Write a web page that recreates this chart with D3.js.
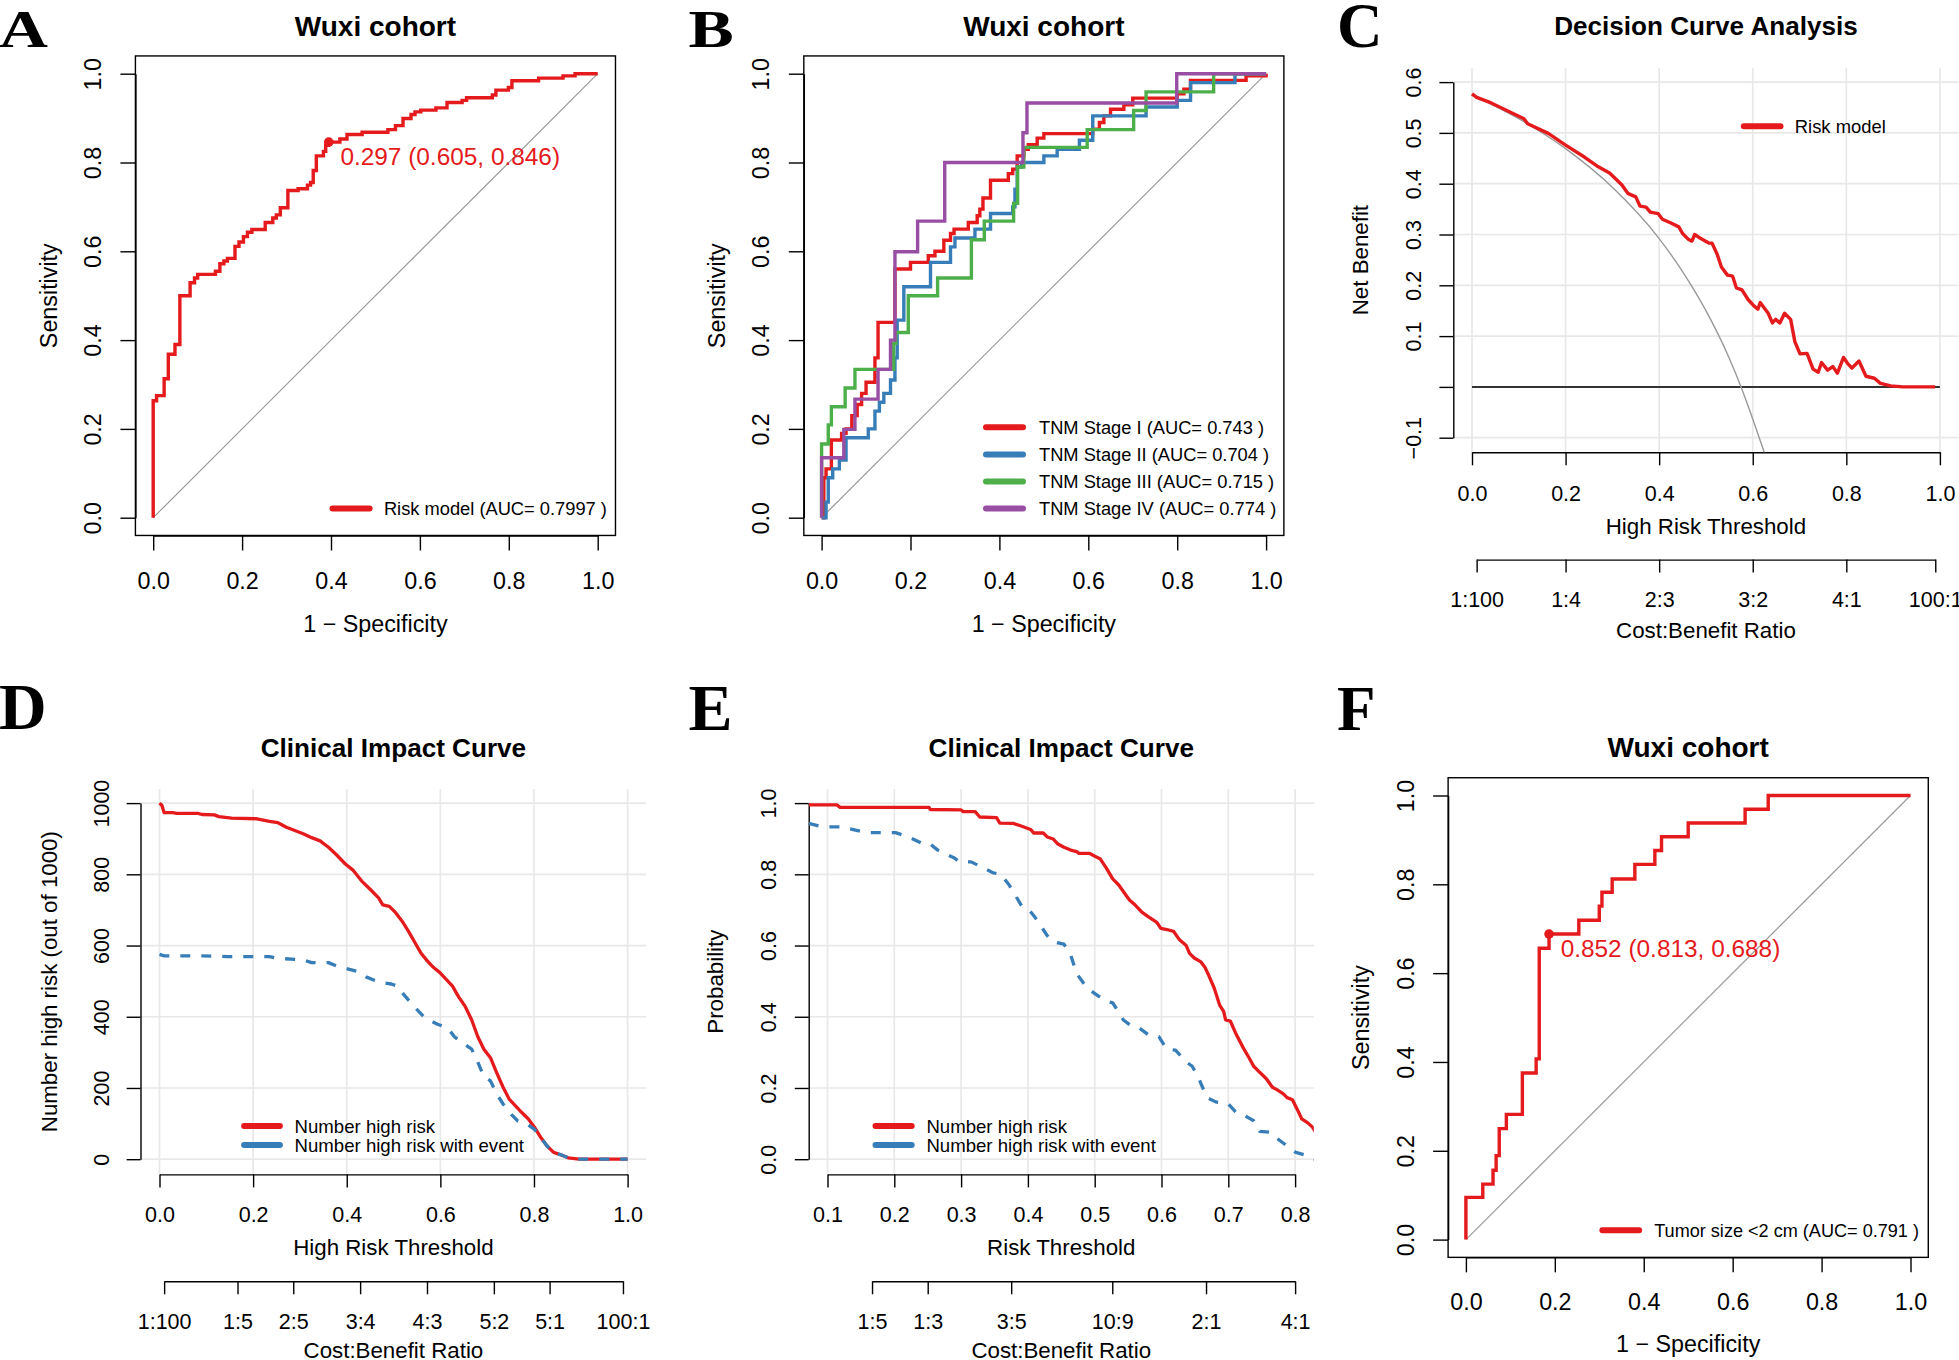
<!DOCTYPE html>
<html><head><meta charset="utf-8">
<script src="https://cdn.jsdelivr.net/npm/d3@7"></script>
<style>body{margin:0;background:#fff;overflow:hidden}</style>
</head><body><svg id="c" width="1959" height="1360"></svg>
<script>
// ================= DATA =================
const rocTicks=[0,0.2,0.4,0.6,0.8,1.0];

// Panel A: ROC risk model (1-specificity, sensitivity) at each vertical step
const rocA_fpr=[0,0,0.0076,0.0246,0.034,0.049,0.060,0.083,0.093,0.100,0.140,0.150,0.159,0.167,0.184,0.193,0.203,0.212,0.222,0.252,0.269,0.277,0.286,0.303,0.326,0.347,0.354,0.360,0.367,0.383,0.388,0.394,0.420,0.436,0.470,0.528,0.545,0.562,0.580,0.589,0.602,0.636,0.661,0.695,0.705,0.763,0.771,0.799,0.807,0.867,0.922,0.949,1.0];
const rocA_tpr=[0,0.2635,0.275,0.313,0.368,0.39,0.5,0.529,0.540,0.548,0.555,0.572,0.578,0.584,0.611,0.621,0.633,0.643,0.649,0.665,0.675,0.682,0.698,0.737,0.741,0.749,0.755,0.782,0.815,0.825,0.839,0.846,0.853,0.863,0.868,0.874,0.883,0.899,0.908,0.914,0.918,0.923,0.935,0.940,0.946,0.952,0.963,0.969,0.984,0.990,0.995,1.0,1.0];
const rocA_label="Risk model (AUC= 0.7997 )";
const rocA_cut=[0.605,0.846]; // specificity, sensitivity
const rocA_cutText="0.297 (0.605, 0.846)";

// Panel B: ROC by TNM stage
const stageLabels=["TNM Stage I (AUC= 0.743 )","TNM Stage II (AUC= 0.704 )","TNM Stage III (AUC= 0.715 )","TNM Stage IV (AUC= 0.774 )"];
const stage1_fpr=[0,0.005,0.01,0.022,0.045,0.055,0.068,0.08,0.09,0.10,0.12,0.127,0.165,0.2,0.24,0.255,0.275,0.29,0.298,0.33,0.35,0.356,0.363,0.38,0.42,0.43,0.44,0.455,0.465,0.485,0.5,0.61,0.625,0.635,0.65,0.68,0.7,0.8,0.815,0.83,0.955,1];
const stage1_tpr=[0,0.09,0.11,0.175,0.19,0.20,0.23,0.255,0.28,0.305,0.36,0.44,0.56,0.575,0.59,0.60,0.625,0.64,0.65,0.665,0.68,0.695,0.72,0.76,0.775,0.785,0.815,0.83,0.84,0.855,0.865,0.875,0.89,0.905,0.92,0.93,0.945,0.955,0.965,0.985,0.995,1];
const stage2_fpr=[0,0.01,0.015,0.025,0.04,0.055,0.105,0.12,0.13,0.14,0.155,0.165,0.17,0.185,0.245,0.29,0.3,0.345,0.38,0.43,0.435,0.44,0.45,0.5,0.53,0.58,0.61,0.73,0.8,0.83,0.93,1];
const stage2_tpr=[0,0.035,0.09,0.11,0.13,0.18,0.2,0.24,0.26,0.28,0.31,0.36,0.445,0.52,0.575,0.61,0.63,0.65,0.685,0.70,0.74,0.79,0.80,0.815,0.83,0.85,0.905,0.925,0.94,0.98,1.0,1.0];
const stage3_fpr=[0,0,0.015,0.022,0.053,0.075,0.162,0.167,0.195,0.261,0.337,0.366,0.432,0.441,0.455,0.5975,0.702,0.73,0.882,1];
const stage3_tpr=[0,0.166,0.209,0.25,0.292,0.334,0.393,0.417,0.5,0.54,0.626,0.668,0.708,0.79,0.834,0.874,0.917,0.959,1.0,1.0];
const stage4_fpr=[0,0,0.05,0.075,0.127,0.155,0.165,0.216,0.277,0.453,0.462,0.799,1];
const stage4_tpr=[0,0.135,0.199,0.267,0.334,0.4,0.599,0.668,0.8,0.867,0.934,1.0,1.0];

// Panel C: decision curve
const dcaTicksY=[-0.1,0,0.1,0.2,0.3,0.4,0.5,0.6];
const dcaTicksX=[0,0.2,0.4,0.6,0.8,1.0];
const dcaC_thr=[0,0.010,0.041,0.111,0.119,0.163,0.2,0.241,0.267,0.294,0.320,0.333,0.350,0.359,0.372,0.381,0.398,0.407,0.424,0.442,0.450,0.463,0.470,0.476,0.489,0.507,0.513,0.524,0.533,0.546,0.557,0.565,0.577,0.590,0.603,0.611,0.616,0.625,0.633,0.642,0.649,0.658,0.668,0.681,0.690,0.701,0.716,0.729,0.740,0.747,0.760,0.771,0.781,0.794,0.803,0.812,0.827,0.842,0.860,0.873,0.895,0.921,0.99];
const dcaC_nb=[0.577,0.570,0.559,0.528,0.518,0.499,0.476,0.452,0.435,0.421,0.398,0.381,0.374,0.356,0.354,0.344,0.341,0.330,0.323,0.315,0.302,0.290,0.287,0.300,0.292,0.283,0.283,0.261,0.236,0.220,0.218,0.195,0.191,0.172,0.159,0.153,0.166,0.155,0.145,0.126,0.133,0.126,0.145,0.133,0.089,0.065,0.066,0.035,0.029,0.048,0.033,0.040,0.027,0.058,0.046,0.037,0.051,0.021,0.017,0.007,0.002,0,0];
const dcaAll_thr=[0,0.1,0.2,0.3,0.4,0.45,0.5,0.55,0.575,0.6,0.625];
const dcaAll_nb=[0.575,0.528,0.469,0.393,0.292,0.227,0.150,0.056,0.0,-0.063,-0.13];
const dcaNone_thr=[0,1];
const dcaNone_nb=[0,0];
const cbLabelsC=["1:100","1:4","2:3","3:2","4:1","100:1"];

// Panel D: clinical impact curve (count out of 1000)
const cicD_thr=[0,0.005,0.01,0.028,0.037,0.082,0.091,0.117,0.127,0.154,0.208,0.235,0.253,0.271,0.289,0.307,0.325,0.343,0.361,0.378,0.397,0.414,0.432,0.450,0.468,0.477,0.491,0.504,0.518,0.531,0.545,0.558,0.572,0.585,0.599,0.612,0.626,0.639,0.653,0.667,0.680,0.693,0.707,0.720,0.734,0.747,0.761,0.774,0.788,0.801,0.815,0.828,0.842,0.860,0.873,0.896,1.0];
const cicD_high=[1000,994,973,973,971,971,968,967,962,958,956,949,945,932,923,914,903,894,876,855,829,811,781,758,734,714,710,693,669,642,610,580,557,539,524,506,486,456,429,391,344,309,285,244,202,169,149,131,113,90,60,37,19,11,4,0,0];
const cicD_thrE=[0,0.01,0.091,0.145,0.235,0.253,0.307,0.325,0.361,0.378,0.397,0.424,0.441,0.468,0.495,0.509,0.522,0.545,0.567,0.594,0.616,0.630,0.648,0.667,0.680,0.693,0.707,0.720,0.734,0.752,0.765,0.788,0.801,0.815,0.828,0.842,0.860,0.873,0.896,1.0];
const cicD_event=[575,571,571,569,569,564,560,552,552,543,536,527,512,498,492,486,462,427,397,379,368,344,326,309,273,232,220,184,155,125,108,96,84,60,37,19,11,4,0,0];
const cicD_ticksY=[0,200,400,600,800,1000];
const cbLabelsD=["1:100","1:5","2:5","3:4","4:3","5:2","5:1","100:1"];
const cicLegend=["Number high risk","Number high risk with event"];

// Panel E: clinical impact curve (probability)
const cicE_thr=[0.0716,0.1139,0.119,0.252,0.254,0.300,0.303,0.321,0.328,0.353,0.358,0.378,0.391,0.404,0.409,0.423,0.429,0.438,0.445,0.454,0.464,0.473,0.476,0.492,0.501,0.508,0.517,0.527,0.536,0.545,0.552,0.561,0.571,0.580,0.593,0.599,0.608,0.618,0.627,0.637,0.642,0.649,0.659,0.665,0.671,0.679,0.687,0.693,0.696,0.703,0.712,0.722,0.731,0.738,0.747,0.757,0.766,0.772,0.782,0.788,0.796,0.804,0.810,0.819,0.826,0.832];
const cicE_high=[0.995,0.995,0.988,0.988,0.982,0.981,0.976,0.976,0.961,0.959,0.944,0.943,0.935,0.926,0.916,0.916,0.905,0.899,0.885,0.876,0.868,0.864,0.859,0.859,0.850,0.844,0.819,0.787,0.770,0.746,0.728,0.713,0.693,0.681,0.665,0.648,0.645,0.640,0.616,0.600,0.578,0.565,0.554,0.539,0.515,0.480,0.433,0.415,0.391,0.388,0.350,0.314,0.285,0.261,0.244,0.226,0.202,0.196,0.184,0.173,0.167,0.137,0.113,0.102,0.090,0.072];
const cicE_thrE=[0.072,0.089,0.101,0.120,0.145,0.158,0.202,0.215,0.227,0.240,0.252,0.265,0.290,0.297,0.315,0.328,0.347,0.360,0.372,0.391,0.401,0.410,0.429,0.438,0.454,0.464,0.473,0.486,0.498,0.517,0.527,0.543,0.555,0.567,0.580,0.596,0.608,0.621,0.637,0.646,0.656,0.668,0.681,0.700,0.712,0.725,0.738,0.747,0.763,0.776,0.788,0.801,0.813,0.829];
const cicE_event=[0.943,0.935,0.933,0.933,0.923,0.917,0.917,0.909,0.900,0.888,0.888,0.868,0.846,0.835,0.835,0.823,0.805,0.799,0.770,0.710,0.702,0.681,0.628,0.610,0.604,0.574,0.521,0.488,0.468,0.444,0.439,0.391,0.374,0.368,0.350,0.344,0.309,0.306,0.273,0.261,0.226,0.173,0.161,0.155,0.131,0.122,0.108,0.078,0.076,0.054,0.037,0.019,0.013,0.0];
const cicE_ticksX=[0.1,0.2,0.3,0.4,0.5,0.6,0.7,0.8];
const cicE_ticksY=[0,0.2,0.4,0.6,0.8,1.0];
const cbLabelsE=["1:5","1:3","3:5","10:9","2:1","4:1"];

// Panel F: ROC tumor size
const rocF_fpr=[0,0,0.038,0.061,0.068,0.075,0.091,0.127,0.158,0.165,0.187,0.254,0.300,0.306,0.329,0.380,0.425,0.44,0.5,0.628,0.68,1];
const rocF_tpr=[0,0.095,0.125,0.156,0.189,0.25,0.282,0.375,0.407,0.656,0.688,0.719,0.751,0.782,0.812,0.845,0.876,0.907,0.938,0.969,1.0,1.0];
const rocF_label="Tumor size <2 cm (AUC= 0.791 )";
const rocF_cut=[0.813,0.688];
const rocF_cutText="0.852 (0.813, 0.688)";

// ================= DRAWING =================
const SANS='"Liberation Sans", Arial, Helvetica, sans-serif';
const SERIF='"Liberation Serif", "Times New Roman", serif';
const RED="#E41A1C", BLUE="#377EB8", GREEN="#4DAF4A", PURPLE="#984EA3";
const GRID="#E8E8E8";
const svg=d3.select("#c").attr("font-family",SANS);
svg.append("rect").attr("width",1959).attr("height",1360).attr("fill","#fff");
const defs=svg.append("defs");
const fmt1=d3.format(".1f");

function clip(id,L,T,R,B){
  defs.append("clipPath").attr("id",id).append("rect")
    .attr("x",L).attr("y",T).attr("width",R-L).attr("height",B-T);
}
function text(x,y,s,fs,o={}){
  const t=svg.append("text").attr("x",x).attr("y",y).attr("font-size",fs)
    .attr("text-anchor",o.anchor||"middle").attr("dy",o.dy||"0.36em")
    .attr("fill",o.fill||"#000").attr("font-family",o.family||SANS).text(s);
  if(o.bold) t.attr("font-weight","bold");
  if(o.rot) t.attr("transform",`rotate(-90,${x},${y})`);
  return t;
}
function styleAxis(g,fs){
  g.attr("font-family",SANS).attr("font-size",fs);
  g.selectAll("path.domain").attr("stroke","#000").attr("stroke-width",1.4);
  g.selectAll(".tick line").attr("stroke","#000").attr("stroke-width",1.4);
  g.selectAll(".tick text").attr("fill","#000");
}
function bottomAxis(scale,ticks,fmt,yPos,off,tl,fs){
  const g=svg.append("g").attr("transform",`translate(0,${yPos})`)
    .call(d3.axisBottom(scale).tickValues(ticks).tickFormat(fmt).tickSize(tl).tickSizeOuter(0));
  styleAxis(g,fs);
  g.selectAll(".tick text").attr("y",off).attr("dy","0.36em");
  return g;
}
function leftAxis(scale,ticks,fmt,xPos,off,tl,fs){
  const g=svg.append("g").attr("transform",`translate(${xPos},0)`)
    .call(d3.axisLeft(scale).tickValues(ticks).tickFormat(fmt).tickSize(tl).tickSizeOuter(0));
  styleAxis(g,fs);
  g.selectAll(".tick text").attr("x",null).attr("dy","0.36em").attr("text-anchor","middle")
    .attr("transform",`translate(${-off},0) rotate(-90)`);
  return g;
}
function legend(x1,x2,xt,ys,labels,colors,fs){
  const g=svg.append("g");
  g.selectAll("line").data(labels).join("line")
    .attr("x1",x1).attr("x2",x2).attr("y1",(d,i)=>ys[i]).attr("y2",(d,i)=>ys[i])
    .attr("stroke",(d,i)=>colors[i]).attr("stroke-width",6).attr("stroke-linecap","round");
  g.selectAll("text").data(labels).join("text")
    .attr("x",xt).attr("y",(d,i)=>ys[i]).attr("dy","0.36em").attr("font-size",fs)
    .attr("fill","#000").text(d=>d);
}
function panelLetter(x,y,s,fs,sx){
  svg.append("text").attr("transform",`translate(${x},${y}) scale(${sx||1},1)`)
    .attr("font-family",SERIF).attr("font-weight","bold").attr("font-size",fs).attr("fill","#000").text(s);
}
function zip(a,b){return a.map((v,i)=>[v,b[i]]);}

// ---------- ROC panel ----------
function rocPanel(o){
  const x=d3.scaleLinear().domain([0,1]).range([o.x0,o.x1]);
  const y=d3.scaleLinear().domain([0,1]).range([o.y0,o.y1]);
  const ex=(o.x1-o.x0)*0.04, ey=(o.y0-o.y1)*0.04;
  const L=o.x0-ex,R=o.x1+ex,T=o.y1-ey,B=o.y0+ey;
  bottomAxis(x,rocTicks,fmt1,B,o.xLab,15,23.3);
  leftAxis(y,rocTicks,fmt1,L,o.yLab,15,23.3);
  svg.append("rect").attr("x",L).attr("y",T).attr("width",R-L).attr("height",B-T)
    .attr("fill","none").attr("stroke","#000").attr("stroke-width",1.4);
  svg.append("line").attr("x1",x(0)).attr("y1",y(0)).attr("x2",x(1)).attr("y2",y(1))
    .attr("stroke","#9a9a9a").attr("stroke-width",1.2);
  const line=d3.line().x(d=>x(d[0])).y(d=>y(d[1])).curve(d3.curveStepAfter);
  o.series.forEach(s=>{
    svg.append("path").datum(zip(s.fpr,s.tpr)).attr("d",line).attr("fill","none")
      .attr("stroke",s.color).attr("stroke-width",3.4).attr("stroke-linejoin","miter");
  });
  if(o.cut){
    const px=x(1-o.cut[0]), py=y(o.cut[1]);
    svg.append("circle").attr("cx",px).attr("cy",py).attr("r",4.8).attr("fill",RED);
    text(px+11.6,py+14.2,o.cutText,24.4,{anchor:"start",fill:RED});
  }
  text((L+R)/2,T-o.titleOff,o.title,28,{bold:true});
  text((L+R)/2,B+o.xTitle,"1 \u2212 Specificity",23.3);
  text(L-o.yTitle,(T+B)/2,"Sensitivity",23.3,{rot:true});
  return {x,y,L,R,T,B};
}

rocPanel({x0:153.2,x1:597.7,y0:517.7,y1:73.7,title:"Wuxi cohort",titleOff:29.8,xLab:45.4,xTitle:87.9,yLab:42.8,yTitle:87,
  series:[{fpr:rocA_fpr,tpr:rocA_tpr,color:RED}],cut:rocA_cut,cutText:rocA_cutText});
legend(332.5,369.6,383.9,[508.5],[rocA_label],[RED],18.3);

rocPanel({x0:821.6,x1:1266.1,y0:517.7,y1:73.7,title:"Wuxi cohort",titleOff:29.8,xLab:45.4,xTitle:87.9,yLab:42.8,yTitle:87,
  series:[{fpr:stage1_fpr,tpr:stage1_tpr,color:RED},{fpr:stage2_fpr,tpr:stage2_tpr,color:BLUE},
          {fpr:stage3_fpr,tpr:stage3_tpr,color:GREEN},{fpr:stage4_fpr,tpr:stage4_tpr,color:PURPLE}]});
legend(986,1023,1039,[427.3,454.5,481.6,508.4],stageLabels,[RED,BLUE,GREEN,PURPLE],18.3);

rocPanel({x0:1465.9,x1:1910.5,y0:1239.6,y1:795.5,title:"Wuxi cohort",titleOff:30.6,xLab:44.5,xTitle:86.6,yLab:42.8,yTitle:87.6,
  series:[{fpr:rocF_fpr,tpr:rocF_tpr,color:RED}],cut:rocF_cut,cutText:rocF_cutText});
legend(1602.4,1639.1,1654.2,[1230.3],[rocF_label],[RED],18.1);

// ---------- grid-style panels (C, D, E) ----------
function ratioToThr(s){const p=s.split(":").map(Number);return p[0]/(p[0]+p[1]);}
function gridPanel(o){
  const x=d3.scaleLinear().domain(o.xd).range(o.xr);
  const y=d3.scaleLinear().domain(o.yd).range(o.yr);
  const {L,R,T,B}=o;
  const gg=svg.append("g");
  gg.selectAll("line.v").data(o.xGrid).join("line").attr("class","v")
    .attr("x1",d=>x(d)).attr("x2",d=>x(d)).attr("y1",T).attr("y2",B)
    .attr("stroke",GRID).attr("stroke-width",1.7);
  gg.selectAll("line.h").data(o.yGrid).join("line").attr("class","h")
    .attr("x1",L).attr("x2",R).attr("y1",d=>y(d)).attr("y2",d=>y(d))
    .attr("stroke",GRID).attr("stroke-width",1.7);
  leftAxis(y,o.yTicks,o.yFmt,L,o.yLabOff,13.9,21.5);
  bottomAxis(x,o.xTicks,o.xFmt,B,o.xLabOff,13,21.5);
  // cost:benefit axis
  const thr=o.cb.map(ratioToThr);
  const cbScale=d3.scaleLinear().domain([thr[0],thr[thr.length-1]]).range([x(thr[0]),x(thr[thr.length-1])]);
  bottomAxis(cbScale,thr,(d,i)=>o.cb[i],B+o.cbOff,o.cbLabOff,13,21.5);
  const cx=(L+R)/2;
  text(cx,B+o.xTitleOff,o.xTitle,22.3);
  text(cx,B+o.cbOff+o.cbTitleOff,"Cost:Benefit Ratio",22.3);
  text(L-o.yTitleOff,(T+B)/2,o.yTitle,22.3,{rot:true});
  text(cx,T-o.titleOff,o.title,26.1,{bold:true});
  clip(o.id,L,T,R,B);
  const cg=svg.append("g").attr("clip-path",`url(#${o.id})`);
  o.series.forEach(s=>{
    const ln=d3.line().x(d=>x(d[0])).y(d=>y(d[1])).curve(s.curve||d3.curveLinear);
    const p=cg.append("path").datum(zip(s.x,s.y)).attr("d",ln).attr("fill","none")
      .attr("stroke",s.color).attr("stroke-width",s.w).attr("stroke-linejoin","round");
    if(s.dash) p.attr("stroke-dasharray",s.dash);
  });
  return {x,y};
}

// Panel C
gridPanel({id:"clipC",xd:[0,1],xr:[1472,1939.9],yd:[-0.1,0.6],yr:[437.7,82.1],
  L:1453.3,R:1958.6,T:67.9,B:452.3,
  xGrid:dcaTicksX,yGrid:dcaTicksY.filter(d=>d!==0),xTicks:dcaTicksX,yTicks:dcaTicksY,
  xFmt:fmt1,yFmt:d=>d===0?"":fmt1(d).replace("-","\u2212"),yLabOff:39.6,xLabOff:40.8,
  cb:cbLabelsC,cbOff:107.3,cbLabOff:40,cbTitleOff:70.3,
  xTitle:"High Risk Threshold",xTitleOff:73.2,yTitle:"Net Benefit",yTitleOff:93.8,
  title:"Decision Curve Analysis",titleOff:41.8,
  series:[
    {x:dcaNone_thr,y:dcaNone_nb,color:"#333",w:2},
    {x:dcaAll_thr,y:dcaAll_nb,color:"#999",w:1.4,curve:d3.curveMonotoneX},
    {x:dcaC_thr,y:dcaC_nb,color:RED,w:3.4}
  ]});
legend(1743.8,1780.5,1794.8,[126.3],["Risk model"],[RED],18.4);

// Panel D
gridPanel({id:"clipD",xd:[0,1],xr:[159.5,627.6],yd:[0,1000],yr:[1159.2,803.1],
  L:140.5,R:646.3,T:788.9,B:1174.4,
  xGrid:dcaTicksX,yGrid:cicD_ticksY,xTicks:dcaTicksX,yTicks:cicD_ticksY,
  xFmt:fmt1,yFmt:d3.format("d"),yLabOff:39.2,xLabOff:40,
  cb:cbLabelsD,cbOff:106.9,cbLabOff:40.4,cbTitleOff:69,
  xTitle:"High Risk Threshold",xTitleOff:72.8,yTitle:"Number high risk (out of 1000)",yTitleOff:91.8,
  title:"Clinical Impact Curve",titleOff:41.3,
  series:[
    {x:cicD_thr,y:cicD_high,color:RED,w:3.3},
    {x:cicD_thrE,y:cicD_event,color:BLUE,w:3.3,dash:"10,11"}
  ]});
legend(244.1,279.9,294.6,[1126,1144.9],cicLegend,[RED,BLUE],18.6);

// Panel E
gridPanel({id:"clipE",xd:[0.1,0.8],xr:[827.5,1295.1],yd:[0,1],yr:[1159.2,803.1],
  L:808.7,R:1313.8,T:788.9,B:1174.4,
  xGrid:cicE_ticksX,yGrid:cicE_ticksY,xTicks:cicE_ticksX,yTicks:cicE_ticksY,
  xFmt:fmt1,yFmt:fmt1,yLabOff:40,xLabOff:40,
  cb:cbLabelsE,cbOff:106.9,cbLabOff:40.4,cbTitleOff:69,
  xTitle:"Risk Threshold",xTitleOff:72.8,yTitle:"Probability",yTitleOff:93.9,
  title:"Clinical Impact Curve",titleOff:41.3,
  series:[
    {x:cicE_thr,y:cicE_high,color:RED,w:3.3},
    {x:cicE_thrE,y:cicE_event,color:BLUE,w:3.3,dash:"10,11"}
  ]});
legend(875.5,911.7,926.4,[1126,1144.9],cicLegend,[RED,BLUE],18.6);

// panel letters
panelLetter(-1,47.1,"A",53,1.28);
panelLetter(688.6,47.1,"B",53,1.28);
panelLetter(1337.1,47,"C",63);
panelLetter(-1,729.3,"D",66);
panelLetter(688.6,730.3,"E",66);
panelLetter(1337.1,730.3,"F",63);
</script></body></html>
